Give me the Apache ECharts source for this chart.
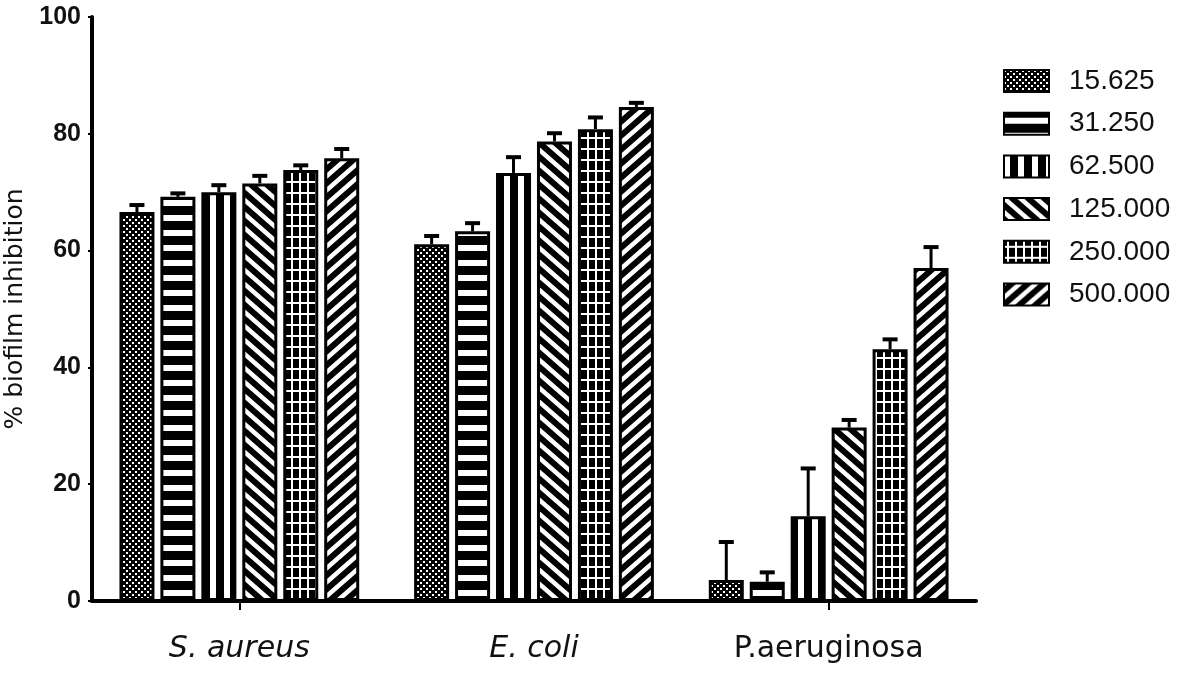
<!DOCTYPE html>
<html>
<head>
<meta charset="utf-8">
<script src="https://cdn.jsdelivr.net/npm/echarts@6/dist/echarts.min.js"></script>
<style>
html,body{margin:0;padding:0;background:#fff;}
#chart{width:1181px;height:676px;}
</style>
</head>
<body>
<div id="chart"></div>
<script>
// ---- data ----
const categories = ['S. aureus', 'E. coli', 'P.aeruginosa'];
const concentrations = ['15.625', '31.250', '62.500', '125.000', '250.000', '500.000'];
const yTicks = [0, 20, 40, 60, 80, 100];

const val_15625 = [66.6, 61.1, 3.6];
const val_31250 = [69.2, 63.3, 3.3];
const val_62500 = [70.0, 73.3, 14.5];
const val_125000 = [71.5, 78.7, 29.7];
const val_250000 = [73.8, 80.8, 43.1];
const val_500000 = [75.8, 84.6, 57.0];

const err_15625 = [1.2, 1.4, 6.5];
const err_31250 = [0.6, 1.4, 1.6];
const err_62500 = [1.2, 2.7, 8.2];
const err_125000 = [1.3, 1.4, 1.3];
const err_250000 = [0.8, 2.0, 1.7];
const err_500000 = [1.6, 0.7, 3.6];

const seriesValues = [val_15625, val_31250, val_62500, val_125000, val_250000, val_500000];
const seriesErrors = [err_15625, err_31250, err_62500, err_125000, err_250000, err_500000];

// ---- fill patterns ----
function tile(w, h, draw) {
  const c = document.createElement('canvas');
  c.width = w; c.height = h;
  const ctx = c.getContext('2d');
  ctx.fillStyle = '#000';
  ctx.fillRect(0, 0, w, h);
  ctx.fillStyle = '#fff';
  ctx.strokeStyle = '#fff';
  draw(ctx, w, h);
  return { image: c, repeat: 'repeat' };
}
const patterns = [
  // checkered dots
  tile(6, 6, (ctx) => {
    ctx.fillRect(0, 0, 2, 2);
    ctx.fillRect(3, 3, 2, 2);
  }),
  // horizontal stripes
  tile(8, 15, (ctx, w) => { ctx.fillRect(0, 5, w, 6); }),
  // vertical stripes
  tile(14, 8, (ctx, w, h) => { ctx.fillRect(0, 0, 6, h); }),
  // back-diagonal stripes
  tile(16, 14, (ctx, w, h) => {
    ctx.lineWidth = 4.5;
    ctx.beginPath();
    ctx.moveTo(-w, -h); ctx.lineTo(2 * w, 2 * h);
    ctx.moveTo(0, -h); ctx.lineTo(2 * w, h);
    ctx.moveTo(-w, 0); ctx.lineTo(w, 2 * h);
    ctx.stroke();
  }),
  // grid
  tile(8, 11, (ctx, w, h) => {
    ctx.fillRect(3, 0, 2, h);
    ctx.fillRect(0, 5, w, 2);
  }),
  // forward-diagonal stripes
  tile(16, 14, (ctx, w, h) => {
    ctx.lineWidth = 4.5;
    ctx.beginPath();
    ctx.moveTo(-w, 2 * h); ctx.lineTo(2 * w, -h);
    ctx.moveTo(0, 2 * h); ctx.lineTo(2 * w, 0);
    ctx.moveTo(-w, h); ctx.lineTo(w, -h);
    ctx.stroke();
  })
];

const BAR_WIDTH = 35;
const BAR_GAP = 0.17;
const PITCH = BAR_WIDTH * (1 + BAR_GAP);

const barSeries = concentrations.map((name, s) => ({
  name: name,
  type: 'bar',
  barWidth: BAR_WIDTH,
  barGap: (BAR_GAP * 100) + '%',
  data: seriesValues[s],
  itemStyle: { color: patterns[s], borderColor: '#000', borderWidth: 3 },
  emphasis: { disabled: true },
  z: 2
}));

const errData = [];
seriesValues.forEach((vals, s) => {
  vals.forEach((v, c) => errData.push([c, s, v, seriesErrors[s][c]]));
});

const errorSeries = {
  name: 'error',
  type: 'custom',
  data: errData,
  encode: { x: 0, y: 2 },
  z: 5,
  silent: true,
  renderItem: function (params, api) {
    const cat = api.value(0), s = api.value(1), v = api.value(2), e = api.value(3);
    const base = api.coord([cat, v]);
    const top = api.coord([cat, v + e]);
    const x = base[0] + (s - 2.5) * PITCH;
    return {
      type: 'group',
      children: [
        { type: 'line', shape: { x1: x, y1: base[1], x2: x, y2: top[1] }, style: { stroke: '#000', lineWidth: 3 } },
        { type: 'line', shape: { x1: x - 7.5, y1: top[1], x2: x + 7.5, y2: top[1] }, style: { stroke: '#000', lineWidth: 4 } }
      ]
    };
  }
};

const chart = echarts.init(document.getElementById('chart'));
chart.setOption({
  animation: false,
  backgroundColor: '#fff',
  grid: { left: 92, right: 205, top: 17, bottom: 75, outerBoundsMode: 'none', containLabel: false },
  legend: {
    data: concentrations,
    orient: 'vertical',
    left: 1003,
    top: 66,
    padding: 0,
    itemWidth: 45,
    itemHeight: 22,
    itemGap: 12.7,
    icon: 'rect',
    selectedMode: false,
    textStyle: {
      fontFamily: 'Liberation Sans, Arial, sans-serif',
      fontSize: 28,
      color: '#111',
      lineHeight: 30,
      padding: [0, 0, 0, 15]
    }
  },
  xAxis: {
    type: 'category',
    data: categories,
    axisLine: { show: true, lineStyle: { color: '#000', width: 4 } },
    axisTick: {
      show: true, alignWithLabel: true, length: 9,
      interval: (i) => i !== 1,
      lineStyle: { color: '#000', width: 2 }
    },
    axisLabel: {
      margin: 33,
      formatter: (v) => v === 'P.aeruginosa' ? '{n|' + v + '}' : '{i|' + v + '}',
      rich: {
        i: { fontFamily: 'DejaVu Sans, sans-serif', fontSize: 30, fontStyle: 'italic', color: '#111' },
        n: { fontFamily: 'DejaVu Sans, sans-serif', fontSize: 30, color: '#111' }
      }
    },
    splitLine: { show: false }
  },
  yAxis: {
    type: 'value',
    min: yTicks[0],
    max: yTicks[yTicks.length - 1],
    interval: yTicks[1] - yTicks[0],
    name: '% biofilm inhibition',
    nameLocation: 'middle',
    nameGap: 63,
    nameRotate: 90,
    nameTextStyle: { fontFamily: 'DejaVu Sans, sans-serif', fontSize: 25, color: '#111' },
    axisLine: { show: true, lineStyle: { color: '#000', width: 4 } },
    axisTick: { show: true, length: 4, lineStyle: { color: '#000', width: 2 } },
    axisLabel: {
      margin: 11,
      fontFamily: 'Liberation Sans, Arial, sans-serif',
      fontSize: 25,
      fontWeight: 'bold',
      color: '#111'
    },
    splitLine: { show: false }
  },
  series: barSeries.concat([errorSeries])
});
</script>
</body>
</html>
